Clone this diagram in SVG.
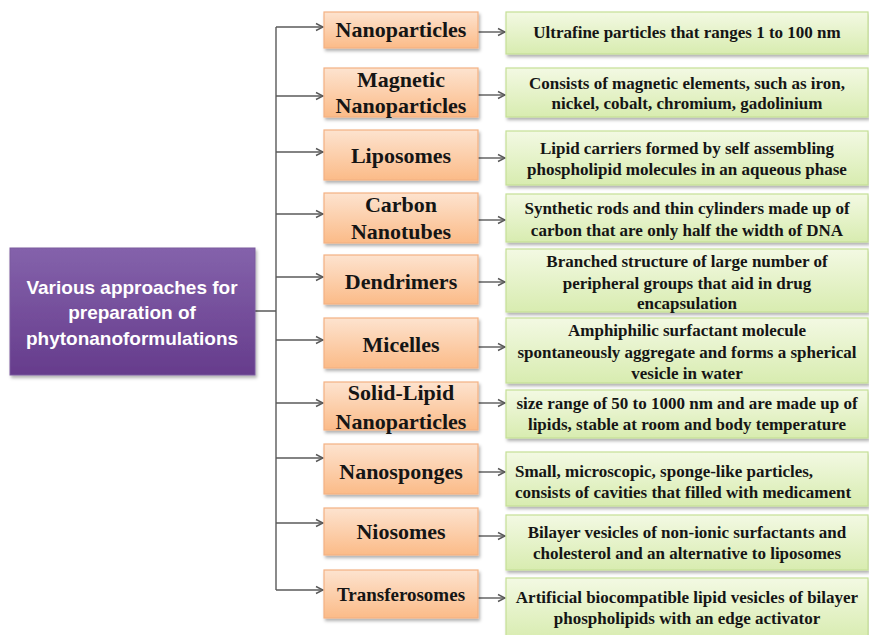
<svg xmlns="http://www.w3.org/2000/svg" width="869" height="635" viewBox="0 0 869 635">
<style>
.ob{fill:url(#og);stroke:#f4b183;stroke-width:1.2;filter:url(#sh)}
.gb{fill:url(#gg);stroke:#c5df97;stroke-width:1.2;filter:url(#sh)}
.pb{fill:url(#pg);stroke:#7a5a9e;stroke-width:1;filter:url(#sh)}
.ot{font-family:"Liberation Serif","Times New Roman",serif;font-weight:bold;font-size:22px;fill:#151515;text-anchor:middle}
.gt{font-family:"Liberation Serif","Times New Roman",serif;font-weight:bold;font-size:17px;fill:#151515;text-anchor:middle}
.pt{font-family:"Liberation Sans",Arial,sans-serif;font-weight:bold;font-size:19px;fill:#ffffff;text-anchor:middle}
.cn{fill:none;stroke:#5a5a5a;stroke-width:1.4}
</style>
<defs>
<linearGradient id="og" x1="0" y1="0" x2="0" y2="1">
<stop offset="0" stop-color="#fde3cf"/>
<stop offset="1" stop-color="#fbbb88"/>
</linearGradient>
<linearGradient id="gg" x1="0" y1="0" x2="0" y2="1">
<stop offset="0" stop-color="#f3f9e3"/>
<stop offset="1" stop-color="#d8ecb0"/>
</linearGradient>
<linearGradient id="pg" x1="0" y1="0" x2="0" y2="1">
<stop offset="0" stop-color="#8462ab"/>
<stop offset="1" stop-color="#663c8c"/>
</linearGradient>
<filter id="sh" x="-10%" y="-20%" width="120%" height="150%">
<feDropShadow dx="1.5" dy="2.5" stdDeviation="1.5" flood-color="#000" flood-opacity="0.3"/>
</filter>
<marker id="ar" markerWidth="10" markerHeight="10" refX="9" refY="5" orient="auto" markerUnits="userSpaceOnUse">
<path d="M2,1.5 L9,5 L2,8.5" fill="none" stroke="#5a5a5a" stroke-width="1.4"/>
</marker>
</defs>
<rect width="869" height="635" fill="#ffffff"/>

<g id="connectors">
<path class="cn" d="M255,311 H276 M276,27 V590"/>
<path class="cn" marker-end="url(#ar)" d="M276,27 H323"/>
<path class="cn" marker-end="url(#ar)" d="M276,96 H323"/>
<path class="cn" marker-end="url(#ar)" d="M276,152 H323"/>
<path class="cn" marker-end="url(#ar)" d="M276,214 H323"/>
<path class="cn" marker-end="url(#ar)" d="M276,277 H323"/>
<path class="cn" marker-end="url(#ar)" d="M276,340 H323"/>
<path class="cn" marker-end="url(#ar)" d="M276,403 H323"/>
<path class="cn" marker-end="url(#ar)" d="M276,458 H323"/>
<path class="cn" marker-end="url(#ar)" d="M276,523 H323"/>
<path class="cn" marker-end="url(#ar)" d="M276,590 H323"/>
<path class="cn" marker-end="url(#ar)" d="M478,32 H505"/>
<path class="cn" marker-end="url(#ar)" d="M478,95 H505"/>
<path class="cn" marker-end="url(#ar)" d="M478,158 H505"/>
<path class="cn" marker-end="url(#ar)" d="M478,220 H505"/>
<path class="cn" marker-end="url(#ar)" d="M478,282 H505"/>
<path class="cn" marker-end="url(#ar)" d="M478,347 H505"/>
<path class="cn" marker-end="url(#ar)" d="M478,403 H505"/>
<path class="cn" marker-end="url(#ar)" d="M478,472 H505"/>
<path class="cn" marker-end="url(#ar)" d="M478,536 H505"/>
<path class="cn" marker-end="url(#ar)" d="M478,598 H505"/>
</g>

<g id="root">
<rect class="pb" x="10" y="248" width="245" height="127"/>
<text class="pt" x="132" y="294">Various approaches  for</text>
<text class="pt" x="132" y="319">preparation of</text>
<text class="pt" x="132" y="345">phytonanoformulations</text>
</g>

<g id="n1"><rect class="ob" x="324" y="12" width="154" height="36"/><text class="ot" x="401" y="37">Nanoparticles</text></g>
<g id="n2"><rect class="ob" x="324" y="68" width="154" height="49"/><text class="ot" x="401" y="87">Magnetic</text><text class="ot" x="401" y="113">Nanoparticles</text></g>
<g id="n3"><rect class="ob" x="324" y="130" width="154" height="50"/><text class="ot" x="401" y="163">Liposomes</text></g>
<g id="n4"><rect class="ob" x="324" y="193" width="154" height="50"/><text class="ot" x="401" y="212">Carbon</text><text class="ot" x="401" y="239">Nanotubes</text></g>
<g id="n5"><rect class="ob" x="324" y="255" width="154" height="49"/><text class="ot" x="401" y="289">Dendrimers</text></g>
<g id="n6"><rect class="ob" x="324" y="318" width="154" height="50"/><text class="ot" x="401" y="352">Micelles</text></g>
<g id="n7"><rect class="ob" x="324" y="382" width="154" height="48"/><text class="ot" x="401" y="400">Solid-Lipid</text><text class="ot" x="401" y="429">Nanoparticles</text></g>
<g id="n8"><rect class="ob" x="324" y="444" width="154" height="50"/><text class="ot" x="401" y="479">Nanosponges</text></g>
<g id="n9"><rect class="ob" x="324" y="508" width="154" height="47"/><text class="ot" x="401" y="539">Niosomes</text></g>
<g id="n10"><rect class="ob" x="324" y="570" width="154" height="48"/><text class="ot" x="401" y="601" style="font-size:19px">Transferosomes</text></g>

<g id="d1"><rect class="gb" x="506" y="12" width="362" height="42"/><text class="gt" x="687" y="38">Ultrafine particles that ranges 1 to 100 nm</text></g>
<g id="d2"><rect class="gb" x="506" y="68" width="362" height="49"/><text class="gt" x="687" y="89">Consists of magnetic elements, such as iron,</text><text class="gt" x="687" y="109">nickel, cobalt, chromium, gadolinium</text></g>
<g id="d3"><rect class="gb" x="506" y="131" width="362" height="54"/><text class="gt" x="687" y="154">Lipid carriers formed by self assembling</text><text class="gt" x="687" y="175">phospholipid molecules in an aqueous phase</text></g>
<g id="d4"><rect class="gb" x="506" y="194" width="362" height="48"/><text class="gt" x="687" y="214">Synthetic rods and thin cylinders made up of</text><text class="gt" x="687" y="236">carbon that are only half the width of DNA</text></g>
<g id="d5"><rect class="gb" x="506" y="249" width="362" height="63"/><text class="gt" x="687" y="267">Branched structure of large number of</text><text class="gt" x="687" y="289">peripheral groups that aid in drug</text><text class="gt" x="687" y="309">encapsulation</text></g>
<g id="d6"><rect class="gb" x="506" y="318" width="362" height="65"/><text class="gt" x="687" y="336">Amphiphilic surfactant molecule</text><text class="gt" x="687" y="358">spontaneously aggregate and forms a spherical</text><text class="gt" x="687" y="379">vesicle in water</text></g>
<g id="d7"><rect class="gb" x="506" y="390" width="362" height="48"/><text class="gt" x="687" y="409">size range of 50 to 1000 nm and are made up of</text><text class="gt" x="687" y="430">lipids, stable at room and body temperature</text></g>
<g id="d8"><rect class="gb" x="506" y="452" width="362" height="54"/><text class="gt" x="515" y="477" style="text-anchor:start">Small, microscopic, sponge-like particles,</text><text class="gt" x="515" y="498" style="text-anchor:start">consists of cavities that filled with medicament</text></g>
<g id="d9"><rect class="gb" x="506" y="515" width="362" height="55"/><text class="gt" x="687" y="538">Bilayer vesicles of non-ionic surfactants and</text><text class="gt" x="687" y="559">cholesterol and an alternative to liposomes</text></g>
<g id="d10"><rect class="gb" x="506" y="578" width="362" height="62"/><text class="gt" x="687" y="603">Artificial biocompatible lipid vesicles of bilayer</text><text class="gt" x="687" y="624">phospholipids with an edge activator</text></g>
</svg>
